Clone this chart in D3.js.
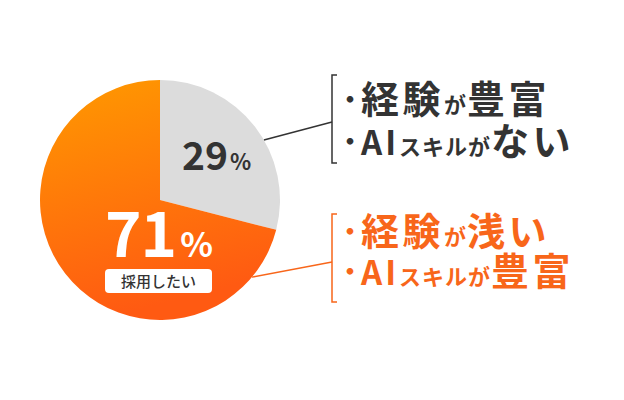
<!DOCTYPE html>
<html>
<head>
<meta charset="utf-8">
<script src="https://cdn.jsdelivr.net/npm/d3@7"></script>
<style>
  body { margin: 0; background: #fff; }
  svg { display: block; font-family: "Noto Sans CJK JP", "Noto Sans", sans-serif; font-weight: 700; }
</style>
</head>
<body>
<svg id="chart" width="624" height="400"></svg>
<script>
// データ
const categories = ["採用しない", "採用したい"];
const shares = [29, 71];
const pctLabels = ["29", "71"];
const mainLabel = "採用したい";

// 注釈テキスト（big: 文字の大きさの種類）
const notesTop = [
  [{ t: "経験", big: true }, { t: "が", big: false }, { t: "豊富", big: true }],
  [{ t: "AI", big: "ai" }, { t: "スキルが", big: false }, { t: "ない", big: true }]
];
const notesBottom = [
  [{ t: "経験", big: true }, { t: "が", big: false }, { t: "浅い", big: true }],
  [{ t: "AI", big: "ai" }, { t: "スキルが", big: false }, { t: "豊富", big: true }]
];

const dark = "#333333";
const orange = "#f8661a";

const svg = d3.select("#chart");
const cx = 160, cy = 200, radius = 120;

const defs = svg.append("defs");
const grad = defs.append("linearGradient")
  .attr("id", "orangeGrad")
  .attr("x1", "0%").attr("y1", "0%")
  .attr("x2", "25%").attr("y2", "100%");
grad.append("stop").attr("offset", "0%").attr("stop-color", "#ff9a00");
grad.append("stop").attr("offset", "100%").attr("stop-color", "#ff5a12");

const pie = d3.pie().sort(null).value(d => d);
const arcs = pie(shares);
const arc = d3.arc().innerRadius(0).outerRadius(radius);

const g = svg.append("g").attr("transform", `translate(${cx},${cy})`);

g.selectAll("path.slice")
  .data(arcs)
  .enter()
  .append("path")
  .attr("class", "slice")
  .attr("d", arc)
  .attr("fill", (d, i) => i === 0 ? "#dcdcdc" : "url(#orangeGrad)");

// パーセント表示
const pct0 = g.append("text")
  .attr("x", 22).attr("y", -30)
  .attr("fill", dark);
pct0.append("tspan").attr("font-size", 39).text(pctLabels[0]);
pct0.append("tspan").attr("font-size", 22).attr("dx", 2).text("%");

const pct1 = g.append("text")
  .attr("x", -55).attr("y", 57)
  .attr("fill", "#fff");
pct1.append("tspan").attr("font-size", 62).attr("letter-spacing", -1).text(pctLabels[1]);
pct1.append("tspan").attr("font-size", 34).attr("dx", 4).text("%");

g.append("rect")
  .attr("x", -55).attr("y", 69)
  .attr("width", 107).attr("height", 24)
  .attr("rx", 4)
  .attr("fill", "#fff");
g.append("text")
  .attr("x", -1.5).attr("y", 86.5)
  .attr("text-anchor", "middle")
  .attr("font-size", 15)
  .attr("font-weight", 500)
  .attr("fill", dark)
  .text(mainLabel);

// 接続線とブラケット
const bracketX = 332;
function connector(angleDeg, y, color) {
  const a = angleDeg * Math.PI / 180;
  const x0 = cx + radius * Math.sin(a);
  const y0 = cy - radius * Math.cos(a);
  svg.append("line")
    .attr("x1", x0).attr("y1", y0)
    .attr("x2", bracketX).attr("y2", y)
    .attr("stroke", color).attr("stroke-width", 1.5);
}
function bracket(y1, y2, color) {
  svg.append("path")
    .attr("d", `M${bracketX + 5},${y1}H${bracketX}V${y2}H${bracketX + 5}`)
    .attr("fill", "none")
    .attr("stroke", color).attr("stroke-width", 1.5);
}

connector(60, 122, dark);
bracket(75, 163, dark);
connector(130, 262, orange);
bracket(214, 302, orange);

function drawNotes(lines, baselines, color) {
  lines.forEach((parts, i) => {
    svg.append("text")
      .attr("x", 337).attr("y", baselines[i] - 4)
      .attr("font-size", 26)
      .attr("fill", color)
      .text("・");
    const t = svg.append("text")
      .attr("x", 361).attr("y", baselines[i])
      .attr("fill", color);
    parts.forEach(p => {
      t.append("tspan")
        .attr("font-size", p.big === true ? 38 : p.big === "ai" ? 33 : 22)
        .attr("letter-spacing", p.big === true ? 3.5 : p.big === "ai" ? 3 : 1)
        .text(p.t);
    });
  });
}

drawNotes(notesTop, [113, 155], dark);
drawNotes(notesBottom, [245, 285], orange);
</script>
</body>
</html>
